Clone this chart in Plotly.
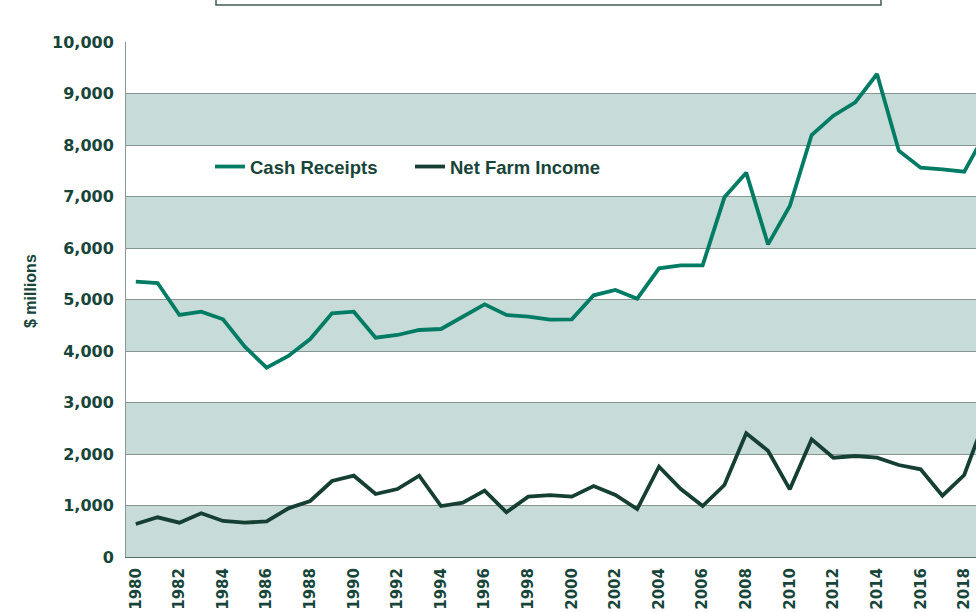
import plotly.graph_objects as go

years = list(range(1980, 2020))
cash_receipts = [5346, 5320, 4699, 4763, 4615, 4084, 3676, 3903, 4233, 4732,
                 4763, 4258, 4311, 4408, 4427, 4667, 4906, 4699, 4667, 4610,
                 4615, 5081, 5184, 5016, 5605, 5663, 5663, 6984, 7463, 6071,
                 6816, 8194, 8569, 8829, 9379, 7890, 7560, 7528, 7482, 8250]
net_farm_income = [641, 771, 666, 848, 699, 666, 693, 945, 1087, 1476,
                   1579, 1223, 1320, 1579, 990, 1055, 1288, 868, 1171, 1200,
                   1171, 1379, 1204, 932, 1754, 1320, 990, 1398, 2401, 2064,
                   1314, 2285, 1928, 1961, 1928, 1786, 1703, 1191, 1592, 2730]
y_ticks = list(range(0, 10001, 1000))
x_ticks = list(range(1980, 2019, 2))

TEXT = "#17453a"
BAND = "#c7dbd8"
GRID = "#86958f"

fig = go.Figure()
fig.add_trace(go.Scatter(x=years, y=cash_receipts, mode="lines", name="Cash Receipts",
                         line=dict(color="#007b64", width=3.8)))
fig.add_trace(go.Scatter(x=years, y=net_farm_income, mode="lines", name="Net Farm Income",
                         line=dict(color="#163f33", width=3.8)))

for lo, hi in zip(y_ticks[0::2], y_ticks[1::2]):
    fig.add_shape(type="rect", xref="paper", yref="y", x0=0, x1=1, y0=lo, y1=hi,
                  fillcolor=BAND, line_width=0, layer="below")

# cropped title box at top
fig.add_shape(type="rect", xref="paper", yref="paper",
              x0=(216 - 126) / 850, x1=(881 - 126) / 850,
              y0=(557 - 5) / 515, y1=1.3,
              line=dict(color="#3f5c52", width=1.5), fillcolor="rgba(0,0,0,0)")

fig.add_annotation(text="$ millions", textangle=-90, xref="paper", yref="paper",
                   x=(30 - 126) / 850, y=(557 - 291) / 515, xanchor="center", yanchor="middle",
                   showarrow=False, font=dict(family="Liberation Sans", size=16, color=TEXT, weight="bold"))

fig.update_layout(
    width=976, height=612,
    margin=dict(l=126, r=0, t=42, b=55),
    paper_bgcolor="white", plot_bgcolor="white",
    showlegend=True,
    legend=dict(orientation="h", x=(210 - 126) / 850, y=(557 - 167) / 515,
                xanchor="left", yanchor="middle", bgcolor="rgba(0,0,0,0)",
                font=dict(family="Liberation Sans", size=18.5, color=TEXT, weight="bold"),
                entrywidth=155, entrywidthmode="pixels"),
    xaxis=dict(range=[1979.55, 2018.54], tickmode="array", tickvals=x_ticks,
               ticktext=[str(v) for v in x_ticks], tickangle=-90, showgrid=False,
               zeroline=False, showline=True, linecolor="#5a6e67", linewidth=1,
               ticks="", ticklabelstandoff=4, automargin=False,
               tickfont=dict(family="DejaVu Sans", size=15, color=TEXT, weight="bold")),
    yaxis=dict(range=[0, 10000], tickmode="array", tickvals=y_ticks,
               ticktext=[f"{v:,}" for v in y_ticks], showgrid=True, gridcolor=GRID,
               gridwidth=1, zeroline=False, showline=True, linecolor="#8a9893", linewidth=1,
               ticks="", ticklabelstandoff=8, automargin=False,
               tickfont=dict(family="DejaVu Sans", size=16, color=TEXT, weight="bold")),
)

fig.write_html("out.html", config={"displayModeBar": False},
               post_script="document.body.style.margin='0';document.body.style.overflow='hidden';")
